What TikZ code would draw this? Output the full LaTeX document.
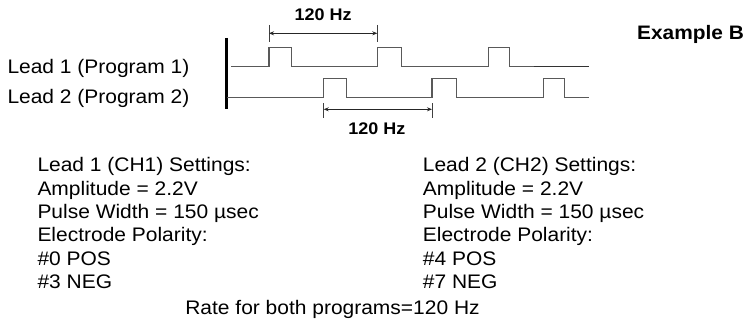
\documentclass[tikz,border=0pt]{standalone}
\usepackage{fontspec}
\setmainfont{Liberation Sans}[FakeStretch=1.07]
\usetikzlibrary{arrows.meta}
\tikzset{
  txt/.style={anchor=base west, inner sep=0pt, font=\fontsize{19.6}{23.3}\selectfont},
  hz/.style={anchor=base, inner sep=0pt, font=\bfseries\fontsize{16.8}{20}\selectfont},
  wave/.style={draw=black!65, line width=1.1pt},
  tick/.style={draw=black!75, line width=0.9pt},
  dim/.style={draw=black!85, line width=0.9pt, {Stealth[length=5pt,width=4pt]}-{Stealth[length=5pt,width=4pt]}}
}
\begin{document}
\begin{tikzpicture}[x=1pt,y=-1pt]
\useasboundingbox (0,0) rectangle (747,329);
% labels
\node[txt] (l1) at (7.3,73.8) {Lead 1 (Program 1)};
\node[txt] (l2) at (7.3,103.3) {Lead 2 (Program 2)};
\node[anchor=base west, inner sep=0pt, font=\bfseries\fontsize{19.5}{23}\selectfont] (ex) at (637,39.3) {Example B};
% bar
\draw[line width=3pt] (226,38) -- (226,109);
% waveforms
\draw[wave] (231,66.7) -- (269,66.7) -- (269,47.7) -- (291.3,47.7) -- (291.3,66.7)
  -- (377.3,66.7) -- (377.3,47.7) -- (401.7,47.7) -- (401.7,66.7)
  -- (488.7,66.7) -- (488.7,47.7) -- (509.3,47.7) -- (509.3,66.7) -- (533.5,66.7);
\draw[wave, draw=black!80] (533.5,66.7) -- (589.3,66.7);
\draw[wave] (227,97.7) -- (323.7,97.7) -- (323.7,78.7) -- (346.3,78.7) -- (346.3,97.7)
  -- (432,97.7) -- (432,78.7) -- (456.7,78.7) -- (456.7,97.7)
  -- (543.3,97.7) -- (543.3,78.7) -- (564.3,78.7) -- (564.3,97.7) -- (589.3,97.7);
% top dimension
\coordinate (ta1) at (269,25); \coordinate (tb1) at (269,41.7);
\coordinate (ta2) at (377.3,25); \coordinate (tb2) at (377.3,41.7);
\coordinate (td1) at (269,33.3); \coordinate (td2) at (377.3,33.3);
\draw[tick] (ta1) -- (tb1);
\draw[tick] (ta2) -- (tb2);
\draw[dim] (td1) -- (td2);
\node[hz] (hz1) at (323.2,20.7) {120 Hz};
% bottom dimension
\coordinate (ba1) at (323.7,103); \coordinate (bb1) at (323.7,118);
\coordinate (ba2) at (432,103); \coordinate (bb2) at (432,118);
\coordinate (bd1) at (323.7,109.3); \coordinate (bd2) at (432,109.3);
\draw[tick] (ba1) -- (bb1);
\draw[tick] (ba2) -- (bb2);
\draw[dim] (bd1) -- (bd2);
\node[hz] (hz2) at (376.8,134.5) {120 Hz};
% left settings
\node[txt] (a1) at (37.3,171.7) {Lead 1 (CH1) Settings:};
\node[txt] (a2) at (37.3,195) {Amplitude = 2.2V};
\node[txt] (a3) at (37.3,218.3) {Pulse Width = 150 µsec};
\node[txt] (a4) at (37.3,241.7) {Electrode Polarity:};
\node[txt] (a5) at (37.3,265) {\#0 POS};
\node[txt] (a6) at (37.3,288.3) {\#3 NEG};
% right settings
\node[txt] (b1) at (422.7,171.7) {Lead 2 (CH2) Settings:};
\node[txt] (b2) at (422.7,195) {Amplitude = 2.2V};
\node[txt] (b3) at (422.7,218.3) {Pulse Width = 150 µsec};
\node[txt] (b4) at (422.7,241.7) {Electrode Polarity:};
\node[txt] (b5) at (422.7,265) {\#4 POS};
\node[txt] (b6) at (422.7,288.3) {\#7 NEG};
% rate
\node[txt, anchor=base] (rate) at (332.5,314) {Rate for both programs=120 Hz};
\end{tikzpicture}
\end{document}
